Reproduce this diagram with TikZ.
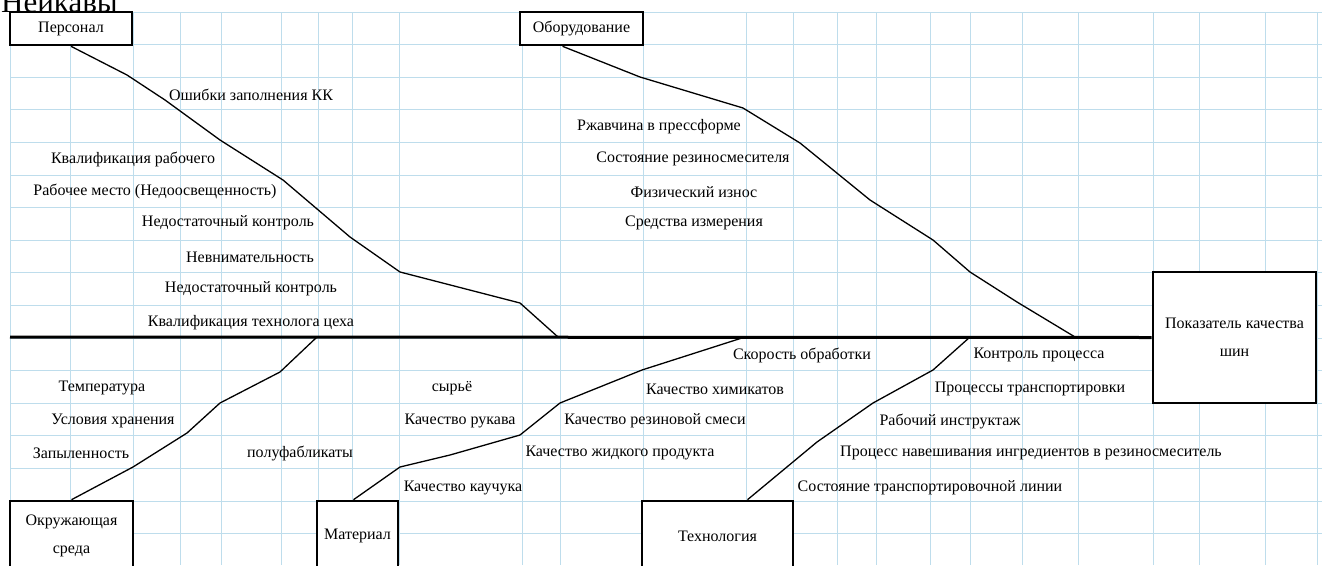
\documentclass[tikz,border=0pt]{standalone}
\usepackage{fontspec}
\setmainfont{Liberation Serif}
\usetikzlibrary{positioning}
\definecolor{gridblue}{RGB}{190,221,236}

\begin{document}
\begin{tikzpicture}[
                x=1pt, y=-1pt,
                cause/.style={font=\fontsize{16}{18}\selectfont, inner sep=0pt},
                block/.style={rectangle, draw, line width=2.6pt, fill=white, inner sep=0pt, align=center, font=\fontsize{16}{28}\selectfont},
                bone/.style={line width=1.3pt},
                spine/.style={line width=3pt},
                gridline/.style={draw=gridblue, line width=0.8pt}
            ]
                \useasboundingbox (0,0) rectangle (1322,565);
                \clip (0,0) rectangle (1322,565);

                % Sheet grid
                \foreach \gx in {10,70,133,180,221,281,318,352,399,522,560,643,746,793,837,876,930,970,1022,1078,1153,1199,1265,1317}
                    \draw[gridline] (\gx,12) -- (\gx,565);
                \foreach \k in {0,...,17}
                    \draw[gridline] (10,{12+32.6*\k}) -- (1322,{12+32.6*\k});

                % Heading, cut at the top
                \node[anchor=base west, inner sep=0pt, font=\fontsize{31}{31}\selectfont] (head) at (1,12) {Нейкавы};

                % Category blocks
                \node[block, minimum width=122pt, minimum height=33pt] (personnel) at (71,28.5) {Персонал};
                \node[block, minimum width=123pt, minimum height=33pt] (equip) at (581.5,28.5) {Оборудование};
                \node[block, minimum width=163pt, minimum height=131pt] (result) at (1234.5,337.5) {Показатель качества\\шин};
                \node[block, minimum width=123pt, minimum height=70pt] (envir) at (71.5,536) {Окружающая\\среда};
                \node[block, minimum width=81pt, minimum height=70pt] (material) at (357.5,536) {Материал};
                \node[block, minimum width=151pt, minimum height=70pt] (techn) at (717.5,536) {Технология};

                % Spine
                \coordinate (spineL) at (10,337);
                \coordinate (pJ) at (558,337);
                \coordinate (eJ) at (1075,337);
                \coordinate (envJ) at (317,337);
                \coordinate (mJ) at (745,337);
                \coordinate (tJ) at (970,337);
                \draw[spine] (spineL) -- (result.west);

                % Bones
                \draw[bone] (personnel.south) -- (127,75) -- (165,100) -- (220,140) -- (283,180)
                    -- (350,237) -- (400,272) -- (520,303) -- (pJ);
                \draw[bone] ([xshift=-19pt]equip.south) -- (640,77) -- (743,108) -- (800,143) -- (870,200)
                    -- (933,240) -- (970,272) -- (1017,302) -- (eJ);
                \draw[bone] (envir.north) -- (133,467) -- (187,433) -- (220,403) -- (280,372) -- (envJ);
                \draw[bone] ([xshift=-4pt]material.north) -- (400,467) -- (450,455) -- (520,435)
                    -- (560,403) -- (642,370) -- (mJ);
                \draw[bone] ([xshift=30pt]techn.north) -- (817,442) -- (873,403) -- (933,370) -- (tJ);

                % Personnel causes
                \node[cause] (p1) at (251,95) {Ошибки заполнения КК};
                \node[cause] (p2) at (133,159) {Квалификация рабочего};
                \node[cause] (p3) at (155,191) {Рабочее место (Недоосвещенность)};
                \node[cause] (p4) at (228,223) {Недостаточный контроль};
                \node[cause] (p5) at (250,257) {Невнимательность};
                \node[cause] (p6) at (251,289) {Недостаточный контроль};
                \node[cause] (p7) at (251,323) {Квалификация технолога цеха};

                % Equipment causes
                \node[cause] (e1) at (659,127) {Ржавчина в прессформе};
                \node[cause] (e2) at (693,159) {Состояние резиносмесителя};
                \node[cause] (e3) at (694,192) {Физический износ};
                \node[cause] (e4) at (694,223) {Средства измерения};

                % Environment causes
                \node[cause] (v1) at (102,388) {Температура};
                \node[cause] (v2) at (113,421) {Условия хранения};
                \node[cause] (v3) at (81,453) {Запыленность};

                % Material causes
                \node[cause] (m1) at (452,388) {сырьё};
                \node[cause] (m2) at (460,421) {Качество рукава};
                \node[cause] (m3) at (300,453) {полуфабликаты};
                \node[cause] (m4) at (463,488) {Качество каучука};
                \node[cause] (m5) at (802,355) {Скорость обработки};
                \node[cause] (m6) at (715,389) {Качество химикатов};
                \node[cause] (m7) at (655,421) {Качество резиновой смеси};
                \node[cause] (m8) at (620,453) {Качество жидкого продукта};

                % Technology causes
                \node[cause] (t1) at (1039,355) {Контроль процесса};
                \node[cause] (t2) at (1030,389) {Процессы транспортировки};
                \node[cause] (t3) at (950,421) {Рабочий инструктаж};
                \node[cause] (t4) at (1031,453) {Процесс навешивания ингредиентов в резиносмеситель};
                \node[cause] (t5) at (930,488) {Состояние транспортировочной линии};
            \end{tikzpicture}
\end{document}
